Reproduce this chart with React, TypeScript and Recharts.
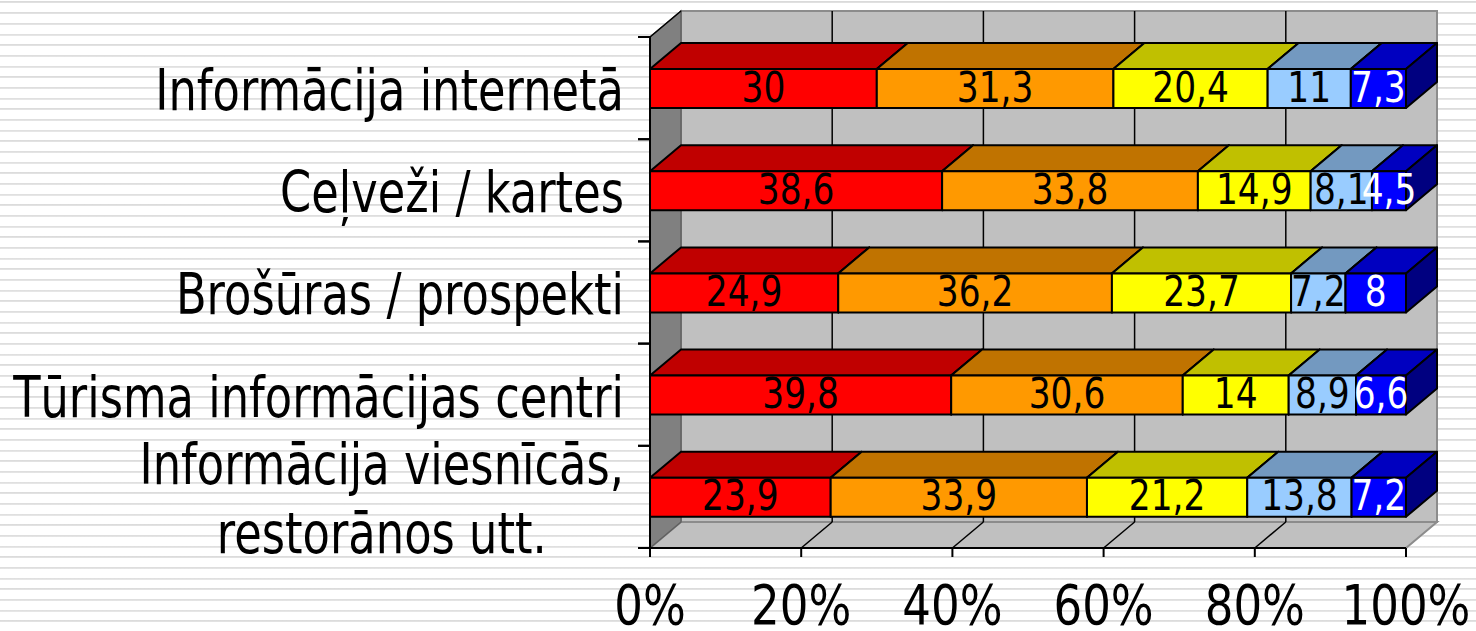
import React from "react"
import { BarChart, Bar, XAxis, YAxis, CartesianGrid, LabelList } from "recharts"

// categories (bottom row in the picture is the last one)
const categories = [
  "Informācija internetā",
  "Ceļveži / kartes",
  "Brošūras / prospekti",
  "Tūrisma informācijas centri",
  "Informācija viesnīcās,\nrestorānos utt.",
]

// shares, percent
const s1 = [30, 38.6, 24.9, 39.8, 23.9]
const s2 = [31.3, 33.8, 36.2, 30.6, 33.9]
const s3 = [20.4, 14.9, 23.7, 14, 21.2]
const s4 = [11, 8.1, 7.2, 8.9, 13.8]
const s5 = [7.3, 4.5, 8, 6.6, 7.2]

const xTicks = [0, 0.2, 0.4, 0.6, 0.8, 1]

const data = categories.map((name, i) => ({
  name,
  s1: s1[i],
  s2: s2[i],
  s3: s3[i],
  s4: s4[i],
  s5: s5[i],
}))

// layout of the front plane + 3D depth
const W = 1476
const H = 631
const L = 650
const R = 1406
const T = 37
const B = 548
const DX = 31
const DY = 26
const FONT = "'DejaVu Sans', Tahoma, sans-serif"
const CAT_SIZE = 57
const CAT_SCALE = 0.785

const SERIES = [
  { key: "s1", front: "#FF0000", top: "#C00000", side: "#800000", label: "#000" },
  { key: "s2", front: "#FF9900", top: "#C07300", side: "#804C00", label: "#000" },
  { key: "s3", front: "#FFFF00", top: "#C0C000", side: "#808000", label: "#000" },
  { key: "s4", front: "#99CCFF", top: "#7399C0", side: "#4C6680", label: "#000" },
  { key: "s5", front: "#0000FF", top: "#0000C0", side: "#000080", label: "#fff" },
]

let ctx: CanvasRenderingContext2D | null = null
function textWidth(s: string) {
  if (!ctx) ctx = document.createElement("canvas").getContext("2d")
  if (!ctx) return s.length * CAT_SIZE * 0.55
  ctx.font = `${CAT_SIZE}px 'DejaVu Sans'`
  return ctx.measureText(s).width
}

function makeShape(s: (typeof SERIES)[number]) {
  return (props: any) => {
    const { x, y, width, height } = props
    if (!width || !height) return <g />
    const x2 = x + width
    const y2 = y + height
    return (
      <g stroke="#000" strokeWidth={2} strokeLinejoin="round">
        <polygon points={`${x},${y} ${x + DX},${y - DY} ${x2 + DX},${y - DY} ${x2},${y}`} fill={s.top} />
        <polygon points={`${x2},${y} ${x2 + DX},${y - DY} ${x2 + DX},${y2 - DY} ${x2},${y2}`} fill={s.side} />
        <rect x={x} y={y} width={width} height={height} fill={s.front} />
      </g>
    )
  }
}

function makeLabel(color: string) {
  return (props: any) => {
    const { x, y, width, height, value } = props
    const cx = x + width / 2
    const cy = y + height / 2
    return (
      <text
        transform={`translate(${cx},${cy + 13}) scale(0.8,1)`}
        textAnchor="middle"
        fontSize={43}
        fontFamily={FONT}
        fill={color}
      >
        {String(value).replace(".", ",")}
      </text>
    )
  }
}

function YTick(props: any) {
  const { x, y, payload } = props
  const half = payload && payload.offset > 0 ? payload.offset : (B - T) / categories.length / 2
  const lines = String(payload.value).split("\n")
  const lh = 69
  const y0 = y + 22 - ((lines.length - 1) * lh) / 2
  const right = x - 12
  // multi-line labels are centred on their widest line
  const multi = lines.length > 1
  const maxW = multi ? Math.max(...lines.map(textWidth)) : 0
  const ax = multi ? right - (maxW * CAT_SCALE) / 2 : right
  return (
    <g>
      <line x1={x + 2} x2={x + 14} y1={y - half} y2={y - half} stroke="#000" strokeWidth={2} />
      <line x1={x + 2} x2={x + 14} y1={y + half} y2={y + half} stroke="#000" strokeWidth={2} />
      <text
        transform={`translate(${ax},0) scale(${CAT_SCALE},1)`}
        textAnchor={multi ? "middle" : "end"}
        fontSize={CAT_SIZE}
        fontFamily={FONT}
        fill="#000"
      >
        {lines.map((l, i) => (
          <tspan key={i} x={0} y={y0 + i * lh}>
            {l}
          </tspan>
        ))}
      </text>
    </g>
  )
}

function XTick(props: any) {
  const { x, y, payload } = props
  return (
    <text transform={`translate(${x},${y + 65}) scale(0.82,1)`} textAnchor="middle" fontSize={55} fontFamily={FONT} fill="#000">
      {Math.round(payload.value * 100)}%
    </text>
  )
}

// back wall line + floor diagonal for each inner gridline
function GridLine(props: any) {
  const { x1, y1, y2 } = props
  if (Math.abs(x1 - L) < 1 || Math.abs(x1 - R) < 1) return <g key={props.key} />
  return (
    <g key={props.key} stroke="#000" strokeWidth={1.5}>
      <line x1={x1 + DX} y1={y1 - DY} x2={x1 + DX} y2={y2 - DY} />
      <line x1={x1} y1={y2} x2={x1 + DX} y2={y2 - DY} />
    </g>
  )
}

function Walls() {
  return (
    <svg width={W} height={H} style={{ position: "absolute", left: 0, top: 0 }}>
      <rect x={L + DX} y={T - DY} width={R - L} height={B - T} fill="#C0C0C0" stroke="#8C8C8C" strokeWidth={2} />
      <polygon points={`${L},${B} ${L + DX},${B - DY} ${R + DX},${B - DY} ${R},${B}`} fill="#C0C0C0" stroke="#8C8C8C" strokeWidth={2} />
      <polygon points={`${L},${T} ${L + DX},${T - DY} ${L + DX},${B - DY} ${L},${B}`} fill="#808080" stroke="#606060" strokeWidth={1.5} />
      <line x1={L} y1={T} x2={L + DX} y2={T - DY} stroke="#000" strokeWidth={1.5} />
    </svg>
  )
}

export default function App() {
  return (
    <div
      style={{
        position: "absolute",
        left: 0,
        top: 0,
        width: W,
        height: H,
        overflow: "hidden",
        background:
          "repeating-linear-gradient(to bottom, #ffffff 0px, #ffffff 1.5px, #dadada 1.5px, #e6e6e6 3.5px, #ffffff 3.5px, #ffffff 10.667px)",
      }}
    >
      <Walls />
      <div style={{ position: "absolute", left: 0, top: 0 }}>
        <BarChart
          width={W}
          height={H}
          data={data}
          layout="vertical"
          stackOffset="expand"
          barSize={39}
          margin={{ top: T, right: W - R, bottom: H - B - 60, left: L - 640 }}
        >
          <CartesianGrid horizontal={false} vertical={GridLine} />
          <XAxis
            type="number"
            domain={[0, 1]}
            ticks={xTicks}
            height={60}
            tickSize={9}
            tickMargin={2}
            axisLine={{ stroke: "#000", strokeWidth: 2 }}
            tickLine={{ stroke: "#000", strokeWidth: 2 }}
            tick={<XTick />}
            interval={0}
          />
          <YAxis
            type="category"
            dataKey="name"
            width={640}
            tickSize={12}
            tickMargin={2}
            axisLine={{ stroke: "#000", strokeWidth: 2 }}
            tickLine={false}
            tick={<YTick />}
            interval={0}
          />
          {SERIES.map((s) => (
            <Bar key={s.key} dataKey={s.key} stackId="a" fill={s.front} shape={makeShape(s)} isAnimationActive={false}>
              <LabelList dataKey={s.key} content={makeLabel(s.label)} />
            </Bar>
          ))}
        </BarChart>
      </div>
    </div>
  )
}
